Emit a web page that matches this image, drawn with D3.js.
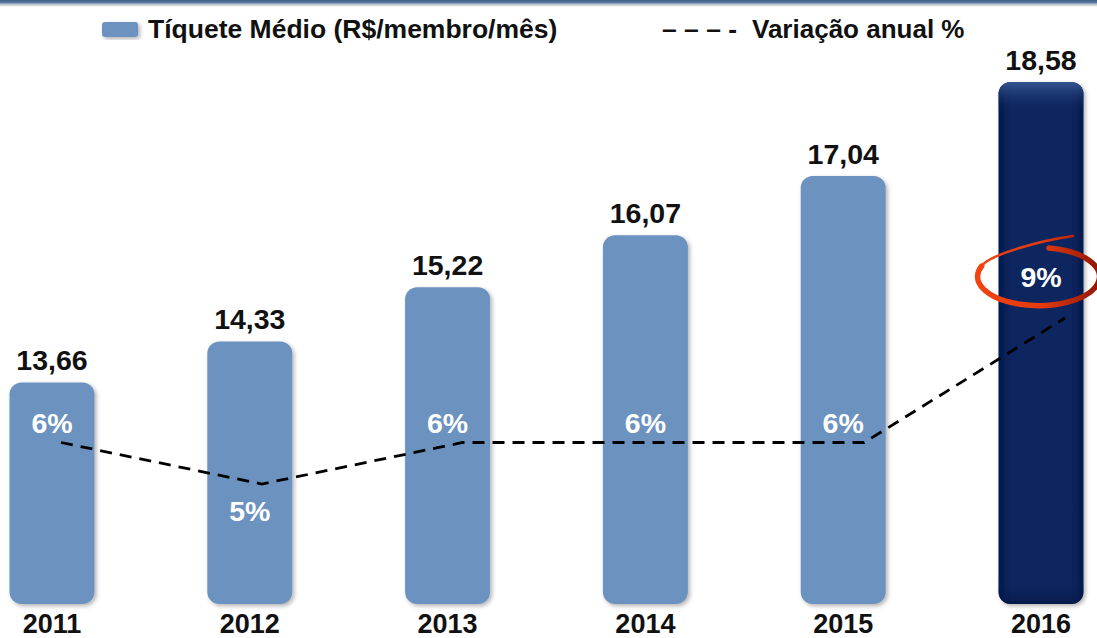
<!DOCTYPE html>
<html><head><meta charset="utf-8">
<script src="https://cdn.jsdelivr.net/npm/d3@7"></script>
<style>
html,body{margin:0;padding:0;background:#fff;}
svg{display:block;font-family:"Liberation Sans",Arial,sans-serif;}
</style></head>
<body>
<svg id="chart" width="1097" height="638"></svg>
<script>
const years = ["2011","2012","2013","2014","2015","2016"];
const ticket = [13.66,14.33,15.22,16.07,17.04,18.58];
const ticketLabels = ["13,66","14,33","15,22","16,07","17,04","18,58"];
const variation = [6,5,6,6,6,9];
const variationLabels = ["6%","5%","6%","6%","6%","9%"];
const legendLabels = ["Tíquete Médio (R$/membro/mês)","Variação anual %"];

const svg = d3.select("#chart");
const defs = svg.append("defs");

const tg = defs.append("linearGradient").attr("id","topband").attr("x1",0).attr("y1",0).attr("x2",0).attr("y2",1);
[[0,"#3f5f88"],[0.35,"#5676a0"],[0.55,"#a8b5c6"],[1,"#ffffff"]].forEach(s=>tg.append("stop").attr("offset",s[0]).attr("stop-color",s[1]));
svg.append("rect").attr("x",0).attr("y",0).attr("width",1097).attr("height",7).attr("fill","url(#topband)");

const f = defs.append("filter").attr("id","shadow").attr("x","-20%").attr("y","-20%").attr("width","140%").attr("height","140%");
f.append("feDropShadow").attr("dx",2).attr("dy",2).attr("stdDeviation",2).attr("flood-color","#000").attr("flood-opacity",0.3);

const dg = defs.append("linearGradient").attr("id","darkbar").attr("x1",0).attr("y1",0).attr("x2",1).attr("y2",0);
[[0,"#04194c"],[0.15,"#0a2661"],[0.85,"#0a2661"],[1,"#05194d"]].forEach(s=>dg.append("stop").attr("offset",s[0]).attr("stop-color",s[1]));
const dgv = defs.append("linearGradient").attr("id","darkbarTop").attr("x1",0).attr("y1",0).attr("x2",0).attr("y2",1);
[[0,"#3a5a95",0.9],[0.06,"#0a2661",0],[0.95,"#0a2661",0],[1,"#02123c",0.6]].forEach(s=>dgv.append("stop").attr("offset",s[0]).attr("stop-color",s[1]).attr("stop-opacity",s[2]));

const x = d3.scalePoint().domain(years).range([52,1041]);
const xLine = d3.scalePoint().domain(years).range([61,1065]);
const barW = 85;
const y = d3.scaleLinear().domain([10.03,18.58]).range([604,82]);
const yPct = d3.scaleLinear().domain([5,9]).range([484,318]);

const fontBold = "bold";

const g = svg.append("g");
years.forEach((yr,i)=>{
  const x0 = x(yr)-barW/2, top = y(ticket[i]), h = y.range()[0]-top;
  const last = i===years.length-1;
  g.append("rect").attr("x",x0).attr("y",top).attr("width",barW).attr("height",h)
    .attr("rx",12).attr("ry",12)
    .attr("fill", last ? "url(#darkbar)" : "#6c92bf")
    .attr("filter","url(#shadow)");
  if(last){
    g.append("rect").attr("x",x0).attr("y",top).attr("width",barW).attr("height",h)
      .attr("rx",12).attr("ry",12).attr("fill","url(#darkbarTop)");
  }
  svg.append("text").attr("x",x(yr)).attr("y",top-12).attr("text-anchor","middle")
    .attr("font-size",28.5).attr("font-weight",fontBold).attr("fill","#111").text(ticketLabels[i]);
  svg.append("text").attr("x",x(yr)).attr("y",633).attr("text-anchor","middle")
    .attr("font-size",27).attr("font-weight",fontBold).attr("fill","#111").text(yr);
});

const line = d3.line().x((d,i)=>xLine(years[i])).y(d=>yPct(d));
svg.append("path").attr("d",line(variation)).attr("fill","none").attr("stroke","#000")
  .attr("stroke-width",2.8).attr("stroke-dasharray","12,8");

variation.forEach((v,i)=>{
  let off;
  if(v===5) off = 37; else if(v===9) off = -31; else off = -10;
  svg.append("text").attr("x",x(years[i])).attr("y",yPct(v)+off).attr("text-anchor","middle")
    .attr("font-size",28.5).attr("font-weight",fontBold).attr("fill","#fff").text(variationLabels[i]);
});

const eg = defs.append("linearGradient").attr("id","ellgrad").attr("gradientUnits","userSpaceOnUse")
  .attr("x1",978).attr("y1",0).attr("x2",1097).attr("y2",0);
[[0,"#f24311"],[0.55,"#e23a0f"],[1,"#951705"]].forEach(s=>eg.append("stop").attr("offset",s[0]).attr("stop-color",s[1]));
const lastYr = years[years.length-1];
const cx = x(lastYr)-2, cy = yPct(variation[variation.length-1]) - 42, rx = 61, ry = 29;
const th = 200*Math.PI/180;
const ex = cx + rx*Math.cos(th), ey = cy + ry*Math.sin(th);
svg.append("path")
  .attr("d",`M${cx+10},${cy-ry+1} A${rx},${ry} 0 1,1 ${ex},${ey}`)
  .attr("fill","none").attr("stroke","url(#ellgrad)").attr("stroke-width",5.5).attr("stroke-linecap","round");
svg.append("path")
  .attr("d",`M${ex},${ey} C${ex+8},${cy-22} ${cx+5},${cy-36} ${cx+34},${cy-40}`)
  .attr("fill","none").attr("stroke","url(#ellgrad)").attr("stroke-width",2.5).attr("stroke-linecap","round");

svg.append("rect").attr("x",102).attr("y",22).attr("width",36).attr("height",15).attr("rx",3)
  .attr("fill","#6c92bf").attr("filter","url(#shadow)");
svg.append("text").attr("x",148).attr("y",38).attr("font-size",26.5).attr("font-weight",fontBold)
  .attr("fill","#111").text(legendLabels[0]);
svg.append("text").attr("x",662).attr("y",38).attr("font-size",26.5).attr("font-weight",fontBold)
  .attr("fill","#111").text("– – – -");
svg.append("text").attr("x",752).attr("y",38).attr("font-size",26).attr("font-weight",fontBold)
  .attr("fill","#111").text(legendLabels[1]);
</script>
</body></html>
